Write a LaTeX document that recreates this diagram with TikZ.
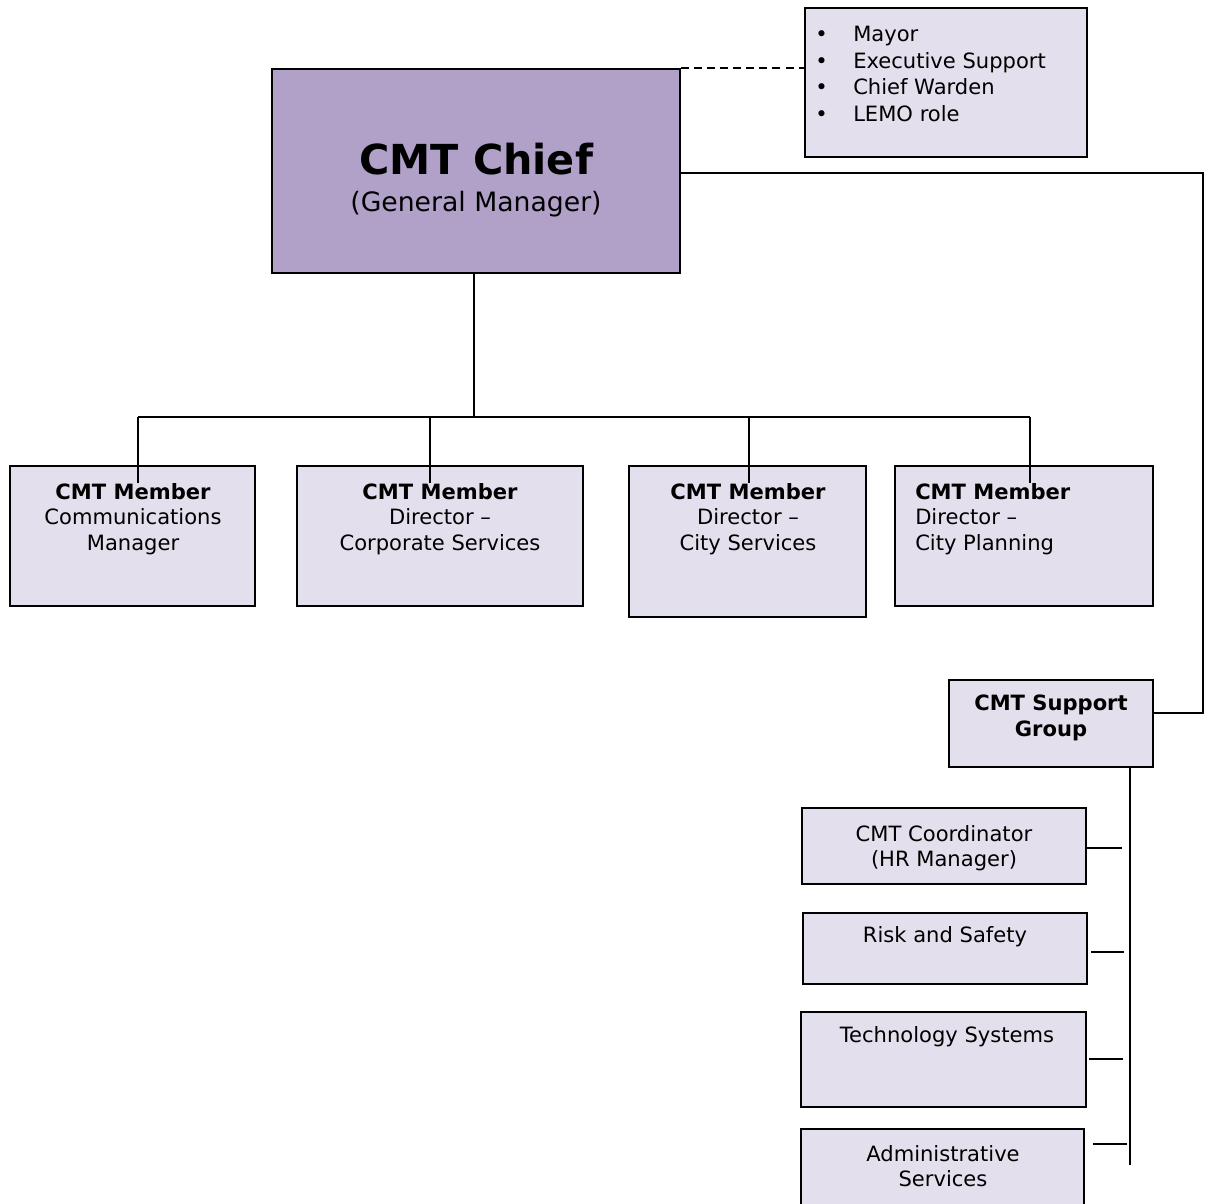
\documentclass[tikz,border=0pt]{standalone}
\usepackage{fontspec}
\setmainfont{DejaVu Sans}
\usetikzlibrary{fit}
\definecolor{boxfill}{HTML}{E4DFEC}
\definecolor{chieffill}{HTML}{B1A1C8}
\tikzset{
  orgbox/.style={draw=black, line width=1.5pt, fill=boxfill, inner sep=0pt, rectangle},
  wire/.style={draw=black, line width=1.35pt},
  txt/.style={inner sep=0pt, align=center, font=\fontsize{15.8}{19.2}\selectfont},
}
\begin{document}
\begin{tikzpicture}[x=0.75pt,y=-0.75pt]
\useasboundingbox (0,0) rectangle (1208,1204);

% boxes
\node[orgbox, fit={(805,8)(1087,157)}] (lst) {};
\node[orgbox, fill=chieffill, fit={(272,69)(680,273)}] (chief) {};
\node[orgbox, fit={(10,466)(255,606)}] (m1) {};
\node[orgbox, fit={(297,466)(583,606)}] (m2) {};
\node[orgbox, fit={(629,466)(866,617)}] (m3) {};
\node[orgbox, fit={(895,466)(1153,606)}] (m4) {};
\node[orgbox, fit={(949,680)(1153,767)}] (sup) {};
\node[orgbox, fit={(802,808)(1086,884)}] (co) {};
\node[orgbox, fit={(803,913)(1087,984)}] (rs) {};
\node[orgbox, fit={(801,1012)(1086,1107)}] (ts) {};
\node[orgbox, fit={(801,1129)(1084,1230)}] (as) {};

% texts
\node[txt, anchor=north west, align=left, font=\fontsize{15.8}{20}\selectfont] (lt) at (815,26)
  {\makebox[28.5pt][l]{•}Mayor\\\makebox[28.5pt][l]{•}Executive Support\\\makebox[28.5pt][l]{•}Chief Warden\\\makebox[28.5pt][l]{•}LEMO role};
\node[inner sep=0pt, anchor=base, font=\bfseries\fontsize{31}{36}\selectfont] (ct) at (476,174) {CMT Chief};
\node[inner sep=0pt, anchor=base, font=\fontsize{20}{24}\selectfont] (cs) at (476,211) {(General Manager)};
\node[txt, anchor=north] (t1) at (133,483) {\textbf{CMT Member}\\Communications\\Manager};
\node[txt, anchor=north] (t2) at (440,483) {\textbf{CMT Member}\\Director –\\Corporate Services};
\node[txt, anchor=north] (t3) at (748,483) {\textbf{CMT Member}\\Director –\\City Services};
\node[txt, anchor=north west, align=left] (t4) at (915,483) {\textbf{CMT Member}\\Director –\\City Planning};
\node[txt, anchor=north, font=\bfseries\fontsize{15.8}{19.5}\selectfont] (tsup) at (1051,695) {CMT Support\\Group};
\node[txt, anchor=north] (tco) at (944,825) {CMT Coordinator\\(HR Manager)};
\node[txt, anchor=north] (trs) at (945,926) {Risk and Safety};
\node[txt, anchor=north] (tts) at (947,1026) {Technology Systems};
\node[txt, anchor=north] (tas) at (943,1145) {Administrative\\Services};

% connector points
\coordinate (rt) at (1203,713);
\coordinate (hb) at (474,417);
\coordinate (j1) at (138,417);
\coordinate (j2) at (430,417);
\coordinate (j3) at (749,417);
\coordinate (j4) at (1030,417);
\coordinate (d1) at (138,483);
\coordinate (d2) at (430,483);
\coordinate (d3) at (749,483);
\coordinate (d4) at (1030,483);
\coordinate (bus) at (1130,1165);
\coordinate (e1) at (1122,848);
\coordinate (e2) at (1124,952);
\coordinate (e3) at (1123,1059);
\coordinate (e4) at (1127,1144);

% connectors
\draw[wire, dashed, dash pattern=on 6pt off 3.8pt] (chief.north east) -- (lst.west |- chief.north east);
\draw[wire] (chief.east |- 0,173) -| (rt) -- (sup.east |- rt);
\draw[wire] (chief.south -| hb) -- (hb);
\draw[wire] (j1) -- (j4);
\draw[wire] (j1) -- (d1);
\draw[wire] (j2) -- (d2);
\draw[wire] (j3) -- (d3);
\draw[wire] (j4) -- (d4);
\draw[wire] (sup.south -| bus) -- (bus);
\draw[wire] (co.east |- e1) -- (e1);
\draw[wire] ([xshift=2.2pt]rs.east |- e2) -- (e2);
\draw[wire] ([xshift=1.8pt]ts.east |- e3) -- (e3);
\draw[wire] ([xshift=6pt]as.east |- e4) -- (e4);
\end{tikzpicture}
\end{document}
